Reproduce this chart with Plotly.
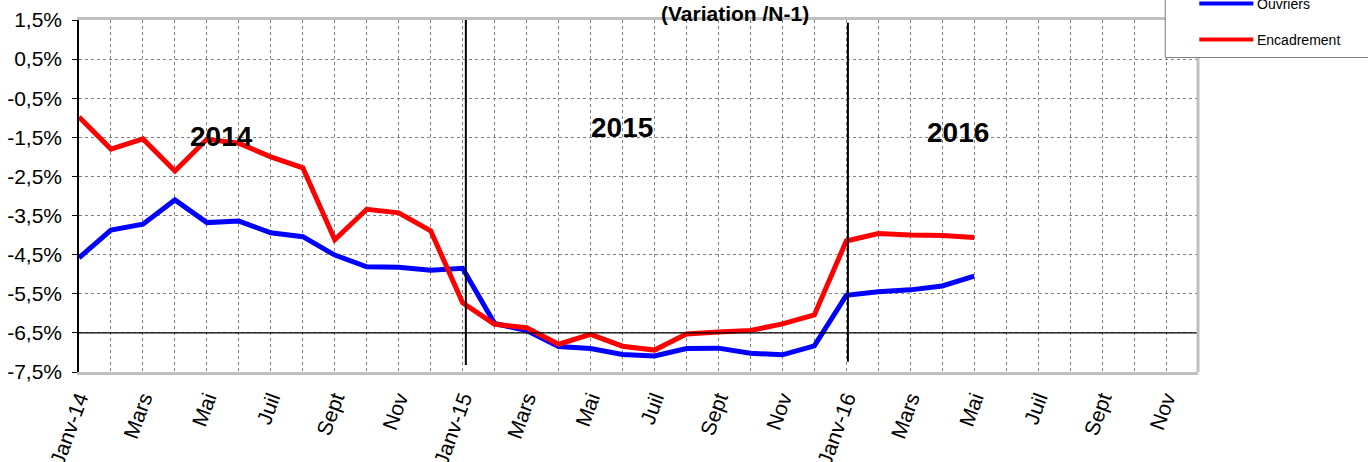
import plotly.graph_objects as go

months = ["Janv-14", "Févr", "Mars", "Avr", "Mai", "Juin", "Juil", "Août", "Sept", "Oct", "Nov", "Déc",
          "Janv-15", "Févr", "Mars", "Avr", "Mai", "Juin", "Juil", "Août", "Sept", "Oct", "Nov", "Déc",
          "Janv-16", "Févr", "Mars", "Avr", "Mai", "Juin", "Juil", "Août", "Sept", "Oct", "Nov", "Déc"]
shown_labels = [m if i % 2 == 0 else "" for i, m in enumerate(months)]

ouvriers = [-4.58, -3.87, -3.72, -3.10, -3.68, -3.64, -3.94, -4.04, -4.51, -4.81, -4.82, -4.90,
            -4.85, -6.26, -6.44, -6.85, -6.90, -7.05, -7.09, -6.90, -6.89, -7.02, -7.06, -6.83,
            -5.54, -5.45, -5.40, -5.30, -5.05]
encadrement = [-0.98, -1.80, -1.54, -2.36, -1.55, -1.65, -2.00, -2.28, -4.12, -3.34, -3.43, -3.89,
               -5.73, -6.28, -6.37, -6.79, -6.54, -6.84, -6.94, -6.53, -6.48, -6.44, -6.27, -6.04,
               -4.15, -3.96, -4.00, -4.01, -4.06]

y_ticks = [1.5, 0.5, -0.5, -1.5, -2.5, -3.5, -4.5, -5.5, -6.5, -7.5]
y_tick_text = ["1,5%", "0,5%", "-0,5%", "-1,5%", "-2,5%", "-3,5%", "-4,5%", "-5,5%", "-6,5%", "-7,5%"]

years = ["2014", "2015", "2016"]
year_x = [4.47, 16.98, 27.48]
year_y = [-1.49, -1.24, -1.38]

FONT = "Arial, Liberation Sans, sans-serif"

fig = go.Figure()
fig.add_trace(go.Scatter(x=list(range(len(ouvriers))), y=ouvriers, mode="lines", name="Ouvriers",
                         line=dict(color="#0000ff", width=5), showlegend=False))
fig.add_trace(go.Scatter(x=list(range(len(encadrement))), y=encadrement, mode="lines", name="Encadrement",
                         line=dict(color="#ff0000", width=5), showlegend=False))

PX0, PW, PB, PH = 79.3, 1118.4, 372, 352


def px(xp):
    return (xp - PX0) / PW


def py(yp):
    return (PB - yp) / PH


shapes = []
shapes.append(dict(type="line", xref="x", yref="y", x0=0, x1=35, y0=-6.5, y1=-6.5,
                   line=dict(color="black", width=1.2), layer="above"))
shapes.append(dict(type="line", xref="x", yref="y", x0=12.1, x1=12.1, y0=1.5, y1=-7.32,
                   line=dict(color="black", width=2), layer="above"))
shapes.append(dict(type="line", xref="x", yref="y", x0=24.05, x1=24.05, y0=1.43, y1=-7.24,
                   line=dict(color="black", width=2), layer="above"))
shapes.append(dict(type="line", xref="paper", yref="paper", x0=1.0, x1=1.0, y0=0, y1=1,
                   line=dict(color="#c0c0c0", width=3), layer="above"))
shapes.append(dict(type="rect", xref="paper", yref="paper", x0=px(1165), x1=px(1400),
                   y0=py(57.5), y1=py(-40), line=dict(color="#808080", width=1),
                   fillcolor="white", layer="above"))
for col, yp in [("#0000ff", 3.5), ("#ff0000", 39.5)]:
    shapes.append(dict(type="line", xref="paper", yref="paper",
                       x0=px(1199), x1=px(1253), y0=py(yp), y1=py(yp),
                       line=dict(color=col, width=4), layer="above"))

annotations = []
for t, xx, yy in zip(years, year_x, year_y):
    annotations.append(dict(text=f"<b>{t}</b>", x=xx, y=yy, xref="x", yref="y", showarrow=False,
                            font=dict(family=FONT, size=28, color="black")))
annotations.append(dict(text="<b>(Variation /N-1)</b>", x=px(735), y=py(14),
                        xref="paper", yref="paper", showarrow=False, xanchor="center", yanchor="middle",
                        font=dict(family=FONT, size=21, color="black")))
for name, yp in [("Ouvriers", 3.5), ("Encadrement", 39.5)]:
    annotations.append(dict(text=name, x=px(1255), y=py(yp),
                            xref="paper", yref="paper", showarrow=False, xanchor="left", yanchor="middle",
                            font=dict(family=FONT, size=14, color="black")))

fig.update_layout(
    width=1368, height=462,
    margin=dict(l=79, r=170, t=20, b=90, autoexpand=False),
    paper_bgcolor="white", plot_bgcolor="white",
    shapes=shapes, annotations=annotations,
    xaxis=dict(range=[0, 35], tickvals=list(range(36)), ticktext=shown_labels,
               tickangle=-70, tickfont=dict(family=FONT, size=21, color="black"),
               showgrid=True, gridcolor="#808080", griddash="dot", gridwidth=1,
               showline=True, linecolor="#c0c0c0", linewidth=3, mirror=True,
               ticks="", ticklabelstandoff=3, zeroline=False, fixedrange=True),
    yaxis=dict(range=[-7.5, 1.5], tickvals=y_ticks, ticktext=y_tick_text,
               tickfont=dict(family=FONT, size=21, color="black"),
               showgrid=True, gridcolor="#808080", griddash="dot", gridwidth=1,
               showline=True, linecolor="black", linewidth=1.5,
               ticks="outside", ticklen=5, tickcolor="black", ticklabelstandoff=6,
               zeroline=False, fixedrange=True),
)

fig.write_html("out.html", config={"displayModeBar": False},
               post_script="document.body.style.margin='0';document.body.style.overflow='hidden';")
